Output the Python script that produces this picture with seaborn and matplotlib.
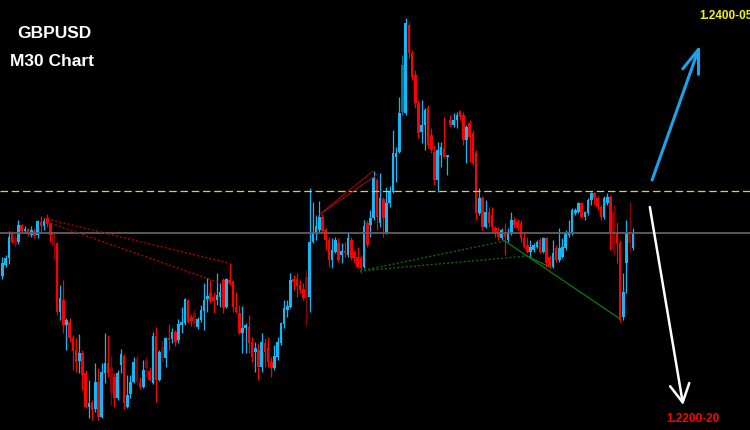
import numpy as np
import pandas as pd
import matplotlib.pyplot as plt
import seaborn as sns

sns.set_theme(style='dark', rc={'axes.facecolor': 'black', 'figure.facecolor': 'black'})
plt.rcParams['font.family'] = ['Liberation Sans', 'DejaVu Sans']

# GBPUSD M30 K线数据，单位：点 (价格 = 1.2200 + 点 * 0.00005)
opens = [144, 155, 162, 186, 182, 178, 195, 189, 191, 185,
         189, 185, 198, 194, 202, 196, 186, 177, 108, 120,
         95, 98, 82, 70, 59, 67, 47, 13, 17, 11,
         38, 3, 47, 57, 53, 43, 22, 55, 64, 13,
         26, 38, 62, 37, 33, 60, 49, 37, 84, 40,
         73, 62, 82, 81, 88, 80, 95, 97, 120, 103,
         107, 93, 100, 109, 121, 127, 123, 120, 123, 140,
         113, 140, 139, 113, 107, 87, 92, 93, 78, 68,
         70, 53, 77, 73, 58, 52, 63, 77, 96, 110,
         113, 141, 141, 135, 131, 143, 123, 178, 187, 190,
         203, 190, 180, 160, 168, 177, 165, 169, 165, 180,
         168, 163, 162, 153, 197, 195, 202, 240, 197, 221,
         187, 217, 228, 263, 268, 308, 307, 395, 367, 345,
         317, 288, 295, 312, 285, 268, 240, 265, 272, 263,
         300, 295, 300, 309, 305, 280, 297, 287, 267, 207,
         222, 193, 208, 205, 192, 188, 182, 188, 180, 187,
         200, 198, 197, 182, 175, 168, 170, 173, 180, 168,
         182, 163, 153, 172, 160, 163, 172, 185, 187, 207,
         208, 217, 203, 207, 220, 227, 222, 213, 203, 217,
         223, 208, 187, 177, 103, 157, 187, 172]
highs = [163, 165, 189, 189, 186, 200, 196, 194, 192, 194,
         192, 200, 204, 202, 206, 198, 188, 178, 135, 140,
         102, 102, 85, 82, 86, 70, 50, 40, 20, 57,
         52, 57, 87, 85, 64, 47, 50, 71, 66, 45,
         45, 63, 65, 43, 60, 63, 53, 88, 93, 70,
         80, 83, 96, 92, 90, 101, 113, 122, 121, 106,
         110, 103, 115, 137, 142, 140, 128, 147, 137, 142,
         142, 157, 140, 128, 115, 114, 97, 105, 83, 78,
         77, 87, 82, 83, 63, 75, 83, 98, 120, 120,
         147, 145, 147, 140, 137, 150, 232, 218, 205, 219,
         206, 192, 183, 182, 183, 182, 177, 178, 188, 183,
         170, 173, 165, 200, 200, 210, 249, 242, 247, 223,
         233, 234, 290, 273, 323, 365, 402, 398, 370, 350,
         320, 320, 312, 315, 292, 275, 278, 278, 303, 265,
         305, 307, 308, 310, 308, 295, 300, 290, 270, 232,
         224, 220, 213, 213, 194, 193, 192, 197, 192, 208,
         203, 201, 200, 187, 183, 180, 177, 180, 182, 183,
         183, 165, 180, 175, 192, 182, 190, 200, 212, 212,
         218, 218, 209, 222, 228, 228, 224, 215, 224, 227,
         225, 215, 198, 180, 147, 200, 218, 192]
lows = [141, 153, 156, 177, 173, 176, 188, 187, 184, 183,
        182, 182, 188, 190, 193, 178, 160, 105, 100, 87,
        70, 78, 50, 48, 47, 30, 12, 2, 0, 8,
        0, 2, 37, 43, 15, 13, 20, 47, 11, 12,
        22, 37, 35, 31, 32, 43, 39, 36, 18, 39,
        58, 53, 70, 77, 74, 77, 87, 95, 97, 94,
        93, 91, 98, 90, 108, 117, 107, 115, 113, 107,
        112, 135, 108, 107, 86, 67, 67, 67, 58, 48,
        40, 48, 53, 53, 43, 50, 60, 75, 92, 103,
        112, 130, 123, 127, 120, 95, 108, 177, 180, 188,
        188, 170, 153, 152, 167, 158, 157, 163, 163, 160,
        157, 152, 147, 152, 173, 183, 200, 190, 193, 183,
        186, 213, 227, 238, 267, 305, 305, 362, 340, 312,
        282, 277, 270, 272, 267, 235, 228, 253, 262, 245,
        293, 293, 292, 300, 275, 257, 258, 255, 200, 205,
        190, 192, 193, 188, 183, 180, 180, 165, 178, 185,
        192, 190, 178, 172, 167, 163, 168, 172, 167, 167,
        153, 152, 152, 158, 158, 162, 170, 183, 185, 205,
        207, 202, 200, 205, 215, 215, 210, 200, 201, 215,
        170, 165, 157, 98, 100, 127, 168, 170]
closes = [157, 162, 183, 178, 176, 195, 189, 191, 186, 190,
          184, 199, 194, 199, 196, 185, 174, 108, 122, 95,
          100, 82, 69, 58, 67, 45, 13, 17, 10, 38,
          3, 48, 57, 47, 27, 22, 47, 66, 17, 25,
          38, 58, 38, 33, 50, 52, 40, 84, 40, 68,
          62, 82, 80, 88, 78, 96, 98, 121, 98, 99,
          96, 101, 110, 120, 124, 119, 119, 125, 128, 112,
          141, 137, 113, 108, 87, 92, 95, 77, 63, 72,
          53, 78, 68, 58, 52, 64, 78, 97, 112, 114,
          140, 138, 134, 130, 122, 122, 178, 188, 194, 203,
          189, 180, 160, 170, 180, 160, 169, 167, 182, 162,
          162, 153, 152, 194, 175, 202, 242, 203, 222, 202,
          217, 228, 267, 267, 307, 355, 397, 367, 343, 317,
          287, 295, 310, 275, 270, 240, 270, 273, 263, 265,
          295, 300, 305, 303, 280, 293, 283, 257, 207, 222,
          193, 208, 197, 193, 187, 183, 190, 183, 188, 200,
          195, 192, 182, 173, 168, 173, 175, 178, 168, 182,
          157, 153, 167, 160, 172, 173, 187, 188, 210, 210,
          217, 203, 208, 220, 227, 222, 213, 203, 222, 223,
          187, 170, 177, 100, 128, 187, 177, 187]
dim_bars = [4, 16, 34, 42, 45, 50, 60, 95, 125, 191, 196]

# 水平线 (点)
resistance = 229
pivot = 187

# 形态线 (K线序号, 点)
red_dotted = [[(12.7, 202), (70.5, 157)], [(13.9, 198), (68.0, 137)]]
red_wedge = [[(99.2, 206), (115.8, 249)], [(99.8, 207), (117.3, 246)]]
green_dotted = [[(111.7, 149), (157.0, 179)], [(111.7, 149), (163.9, 164)]]
green_solid = [[(157.0, 179), (193.0, 101)], [(163.9, 164), (171.0, 153)]]
up_arrow = [(203.0, 240), (218.0, 375)]
down_arrow = [(202.3, 213), (212.7, 15)]

base, unit = 1.2200, 0.00005
df = pd.DataFrame({'open': opens, 'high': highs, 'low': lows, 'close': closes})
df = base + df * unit
df['idx'] = np.arange(len(df))
df['up'] = df['close'] >= df['open']
df['dim'] = df['idx'].isin(dim_bars)

def p(v):
    return base + v * unit

fig = plt.figure(figsize=(7.5, 4.3), dpi=100)
ax = fig.add_axes([0, 0, 1, 1])
ax.set_facecolor('black')

colors = []
for up, dim in zip(df['up'], df['dim']):
    if up:
        colors.append('#0d6f92' if dim else '#10b8f5')
    else:
        colors.append('#8c0000' if dim else '#ff0000')

ax.vlines(df['idx'], df['low'], df['high'], colors=colors, linewidth=0.9)
body_lo = df[['open', 'close']].min(axis=1)
body_h = (df['close'] - df['open']).abs().clip(lower=unit * 2)
ax.bar(df['idx'], body_h, bottom=body_lo, width=0.8, color=colors, linewidth=0, antialiased=False)

ax.axhline(p(resistance), color='#d8d82a', linewidth=0.9, dashes=(6, 3))
ax.axhline(p(pivot), color='#606060', linewidth=1.3)

for seg in red_dotted:
    ax.plot([s[0] for s in seg], [p(s[1]) for s in seg], color='#b00000', linewidth=1.0, dashes=(1.5, 1.5))
for seg in red_wedge:
    ax.plot([s[0] for s in seg], [p(s[1]) for s in seg], color='#9a0a0a', linewidth=0.8)
for seg in green_dotted:
    ax.plot([s[0] for s in seg], [p(s[1]) for s in seg], color='#0a6a0a', linewidth=1.0, dashes=(1.5, 1.5))
for seg in green_solid:
    ax.plot([s[0] for s in seg], [p(s[1]) for s in seg], color='#0c7a0c', linewidth=0.9)

ax.annotate('', xy=(up_arrow[1][0], p(up_arrow[1][1])), xytext=(up_arrow[0][0], p(up_arrow[0][1])),
            arrowprops=dict(arrowstyle='->, head_length=0.85, head_width=0.3', color='#1aa3e8',
                            linewidth=2.2, mutation_scale=20, shrinkA=0, shrinkB=0))
ax.annotate('', xy=(down_arrow[1][0], p(down_arrow[1][1])), xytext=(down_arrow[0][0], p(down_arrow[0][1])),
            arrowprops=dict(arrowstyle='->, head_length=0.65, head_width=0.35', color='white',
                            linewidth=1.8, mutation_scale=20, shrinkA=0, shrinkB=0))

ax.text(0.023, 0.921, 'GBPUSD', transform=ax.transAxes, color='white', fontsize=12.5,
        fontweight='heavy', va='center', ha='left')
ax.text(0.013, 0.858, 'M30 Chart', transform=ax.transAxes, color='white', fontsize=12.5,
        fontweight='heavy', va='center', ha='left')
# 参考图中该标签在右边缘被截断
ax.text(0.932, 0.963, '1.2400-05', transform=ax.transAxes, color='#f5f500', fontsize=8.5,
        fontweight='bold', va='center', ha='left')
ax.text(0.888, 0.025, '1.2200-20', transform=ax.transAxes, color='#ff0000', fontsize=8.5,
        fontweight='bold', va='center', ha='left')

ax.set_xlim(-0.78, 233.6)
ax.set_ylim(p(-10), p(420))
ax.axis('off')

fig.savefig('out.png', dpi=100, facecolor='black')
